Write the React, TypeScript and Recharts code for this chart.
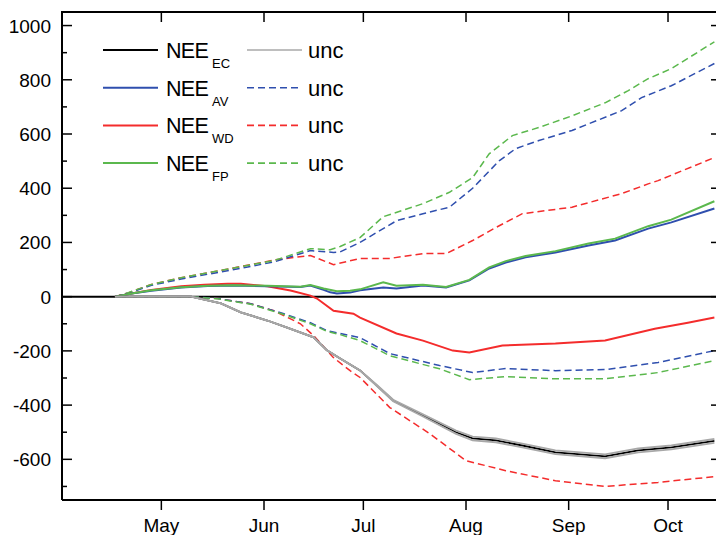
import { LineChart, Line, XAxis, YAxis, ReferenceLine, Legend } from 'recharts'

const FONT = '"Liberation Sans", Arial, sans-serif'

type Pt = [number, number] // [day of year, cumulative NEE]

// cumulative NEE per footprint method, solid curves
const neeEC: Pt[] = [
  [107, 0], [118, 0], [130, 0], [139, -25], [145, -58], [153, -88], [159, -114], [167, -150],
  [171, -198], [175, -228], [181, -272], [186, -327], [191, -383], [200, -438], [210, -500],
  [215, -523], [222, -530], [230, -549], [240, -574], [255, -589], [265, -567], [275, -556], [288, -532],
]
const neeAV: Pt[] = [
  [107, 0], [112, 12], [118, 22], [127, 34], [135, 39], [143, 41], [153, 38], [163, 36],
  [166, 41], [170, 25], [172, 16], [174, 12], [178, 15], [181, 24], [188, 34], [192, 30],
  [200, 41], [207, 34], [214, 60], [220, 104], [225, 126], [231, 145], [240, 163], [250, 189],
  [258, 207], [268, 251], [275, 274], [288, 325],
]
const neeWD: Pt[] = [
  [107, 0], [112, 12], [118, 25], [127, 38], [134, 44], [141, 48], [145, 48], [153, 38],
  [160, 23], [166, 4], [168, -7], [173, -52], [179, -63], [181, -77], [192, -136], [200, -162],
  [209, -199], [214, -206], [224, -180], [240, -173], [255, -162], [270, -118], [280, -96], [288, -77],
]
const neeFP: Pt[] = [
  [107, 0], [112, 12], [118, 24], [127, 35], [135, 40], [143, 42], [153, 40], [163, 37],
  [166, 43], [170, 30], [174, 20], [178, 22], [181, 27], [188, 53], [192, 40], [200, 44],
  [207, 36], [214, 62], [220, 108], [225, 131], [231, 150], [240, 168], [250, 196], [258, 214],
  [268, 260], [275, 284], [288, 352],
]

// uncertainty bounds
const ecUncHi: Pt[] = [
  [107, 0], [118, 0], [130, 0], [139, -25], [145, -58], [153, -88], [159, -114], [167, -150],
  [171, -198], [175, -228], [181, -272], [186, -325], [191, -380], [200, -434], [210, -494],
  [215, -516], [222, -523], [230, -542], [240, -567], [255, -582], [265, -560], [275, -549], [288, -525],
]
const ecUncLo: Pt[] = [
  [107, 0], [118, 0], [130, 0], [139, -25], [145, -58], [153, -88], [159, -114], [167, -150],
  [171, -198], [175, -228], [181, -272], [186, -329], [191, -386], [200, -442], [210, -506],
  [215, -530], [222, -537], [230, -556], [240, -581], [255, -596], [265, -574], [275, -563], [288, -539],
]
const avUncHi: Pt[] = [
  [107, 0], [111, 13], [118, 42], [127, 65], [142, 98], [155, 128], [166, 170], [173, 163],
  [175, 165], [181, 200], [188, 251], [192, 280], [200, 306], [208, 330], [215, 400], [223, 501],
  [228, 546], [235, 576], [245, 613], [260, 686], [266, 734], [275, 778], [288, 860],
]
const avUncLo: Pt[] = [
  [107, 0], [130, 0], [138, -7], [148, -26], [158, -63], [166, -96], [171, -125], [175, -136],
  [181, -151], [190, -210], [205, -254], [215, -280], [225, -265], [240, -273], [255, -269],
  [271, -243], [288, -199],
]
const wdUncHi: Pt[] = [
  [107, 0], [111, 14], [118, 45], [127, 70], [142, 104], [155, 135], [166, 152], [173, 118],
  [181, 141], [190, 141], [200, 159], [207, 159], [215, 207], [222, 255], [230, 306], [245, 330],
  [260, 380], [268, 416], [271, 428], [288, 513],
]
const wdUncLo: Pt[] = [
  [107, 0], [129, 0], [138, -7], [148, -26], [155, -52], [163, -100], [167, -144], [173, -225],
  [178, -273], [181, -298], [190, -409], [202, -505], [213, -605], [225, -642], [240, -679],
  [255, -700], [271, -685], [288, -664],
]
const fpUncHi: Pt[] = [
  [107, 0], [111, 15], [118, 45], [127, 70], [142, 104], [155, 133], [166, 177], [172, 173],
  [175, 185], [181, 218], [188, 295], [200, 343], [208, 385], [215, 439], [220, 527], [227, 594],
  [235, 624], [245, 667], [255, 715], [262, 760], [268, 804], [275, 841], [288, 940],
]
const fpUncLo: Pt[] = [
  [107, 0], [130, 0], [138, -8], [148, -28], [158, -66], [166, -100], [171, -128], [175, -140],
  [181, -162], [190, -218], [205, -266], [214, -306], [225, -295], [240, -303], [255, -303],
  [271, -280], [288, -236],
]

const monthTicks = [121, 152, 182, 213, 244, 274]
const monthLabels = ['May', 'Jun', 'Jul', 'Aug', 'Sep', 'Oct']
const yTicks = [-700, -600, -500, -400, -300, -200, -100, 0, 100, 200, 300, 400, 500, 600, 700, 800, 900, 1000]

const X_DOMAIN: [number, number] = [91, 290]
const Y_DOMAIN: [number, number] = [-750, 1050]

// chart box; the plot size follows from it and is reused to draw the top/right frame
const CHART_W = 730
const CHART_H = 535
const MARGIN = { top: 12, right: 9, bottom: 5, left: 0 }
const Y_AXIS_W = 62
const X_AXIS_H = 30
const PLOT_W = CHART_W - MARGIN.left - MARGIN.right - Y_AXIS_W
const PLOT_H = CHART_H - MARGIN.top - MARGIN.bottom - X_AXIS_H
const PX_PER_UNIT = PLOT_H / (Y_DOMAIN[1] - Y_DOMAIN[0])

const BLACK = '#000000'
const GRAY = '#a8a8a8'
const BLUE = '#2f4fae'
const RED = '#f42c2c'
const GREEN = '#5bb84d'

const rows = (pts: Pt[]) => pts.map(([d, v]) => ({ d, v }))

const dashed = [
  { id: 'wdHi', pts: wdUncHi, color: RED },
  { id: 'wdLo', pts: wdUncLo, color: RED },
  { id: 'avHi', pts: avUncHi, color: BLUE },
  { id: 'avLo', pts: avUncLo, color: BLUE },
  { id: 'fpHi', pts: fpUncHi, color: GREEN },
  { id: 'fpLo', pts: fpUncLo, color: GREEN },
]
const solid = [
  { id: 'wd', pts: neeWD, color: RED },
  { id: 'av', pts: neeAV, color: BLUE },
  { id: 'fp', pts: neeFP, color: GREEN },
]

const legendRows = [
  { sub: 'EC', color: BLACK, unc: GRAY, dash: undefined },
  { sub: 'AV', color: BLUE, unc: BLUE, dash: '7 4' },
  { sub: 'WD', color: RED, unc: RED, dash: '7 4' },
  { sub: 'FP', color: GREEN, unc: GREEN, dash: '7 4' },
]

// left ticks point inward; majors also get a mirrored tick on the right frame,
// and the top tick carries the top/right frame lines
const LeftTick = (props: any) => {
  const { x, y, payload } = props
  const v = payload.value
  const major = v % 200 === 0
  const ax = x + 11
  const rx = ax + PLOT_W
  const top = y - (Y_DOMAIN[1] - v) * PX_PER_UNIT
  const isTop = v === yTicks[yTicks.length - 1]
  return (
    <g>
      <line x1={ax} x2={ax + (major ? 10 : 5)} y1={y} y2={y} stroke={BLACK} strokeWidth={1.5} />
      <line x1={rx - (major ? 10 : 5)} x2={rx} y1={y} y2={y} stroke={BLACK} strokeWidth={1.5} />
      {isTop && (
        <>
          <line x1={ax - 1} x2={rx + 1} y1={top} y2={top} stroke={BLACK} strokeWidth={2} />
          <line x1={rx} x2={rx} y1={top} y2={top + PLOT_H} stroke={BLACK} strokeWidth={2} />
        </>
      )}
      {major && (
        <text x={x} y={y} dy={7} textAnchor="end" fontSize={19} fontFamily={FONT} fill={BLACK}>
          {v}
        </text>
      )}
    </g>
  )
}

// month ticks: outward on the bottom axis, inward on the top frame
const BottomTick = (props: any) => {
  const { x, y, payload } = props
  const i = monthTicks.indexOf(payload.value)
  return (
    <g>
      <line x1={x} x2={x} y1={y} y2={y + 10} stroke={BLACK} strokeWidth={1.5} />
      <line x1={x} x2={x} y1={y - PLOT_H} y2={y - PLOT_H + 10} stroke={BLACK} strokeWidth={1.5} />
      <text x={x} y={y + 32} textAnchor="middle" fontSize={19} fontFamily={FONT} fill={BLACK}>
        {monthLabels[i]}
      </text>
    </g>
  )
}

const LegendBox = () => (
  <svg width={360} height={190} style={{ display: 'block' }}>
    {legendRows.map((r, i) => {
      const ly = 50 + i * 37.7
      return (
        <g key={r.sub} fontFamily={FONT} fill={BLACK}>
          <line x1={103} x2={158} y1={ly} y2={ly} stroke={r.color} strokeWidth={2} />
          <text x={166} y={ly + 8} fontSize={21.5} letterSpacing={-0.7}>NEE</text>
          <text x={212} y={ly + 18} fontSize={13}>{r.sub}</text>
          <line x1={247} x2={302} y1={ly} y2={ly} stroke={r.unc} strokeWidth={1.6} strokeDasharray={r.dash} />
          <text x={308} y={ly + 8} fontSize={22}>unc</text>
        </g>
      )
    })}
  </svg>
)

export default function App() {
  return (
    <div style={{ position: 'absolute', left: 0, top: 0, width: 716, height: 535, overflow: 'hidden', background: '#fff' }}>
      <LineChart width={CHART_W} height={CHART_H} margin={MARGIN}>
        <XAxis
          dataKey="d"
          type="number"
          domain={X_DOMAIN}
          ticks={monthTicks}
          interval={0}
          height={X_AXIS_H}
          tickSize={0}
          tickMargin={0}
          tickLine={false}
          axisLine={{ stroke: BLACK, strokeWidth: 2 }}
          tick={BottomTick}
          allowDataOverflow
        />
        <YAxis
          type="number"
          domain={Y_DOMAIN}
          ticks={yTicks}
          interval={0}
          width={Y_AXIS_W}
          tickSize={0}
          tickMargin={11}
          tickLine={false}
          axisLine={{ stroke: BLACK, strokeWidth: 2 }}
          tick={LeftTick}
          allowDataOverflow
        />
        <ReferenceLine y={0} stroke={BLACK} strokeWidth={2} />
        {dashed.map((s) => (
          <Line
            key={s.id}
            data={rows(s.pts)}
            dataKey="v"
            type="linear"
            stroke={s.color}
            strokeWidth={1.5}
            strokeDasharray="7 4"
            dot={false}
            activeDot={false}
            isAnimationActive={false}
          />
        ))}
        {solid.map((s) => (
          <Line
            key={s.id}
            data={rows(s.pts)}
            dataKey="v"
            type="linear"
            stroke={s.color}
            strokeWidth={2}
            dot={false}
            activeDot={false}
            isAnimationActive={false}
          />
        ))}
        <Line data={rows(neeEC)} dataKey="v" type="linear" stroke={BLACK} strokeWidth={1.8} dot={false} activeDot={false} isAnimationActive={false} />
        <Line data={rows(ecUncHi)} dataKey="v" type="linear" stroke={GRAY} strokeWidth={1.8} dot={false} activeDot={false} isAnimationActive={false} />
        <Line data={rows(ecUncLo)} dataKey="v" type="linear" stroke={GRAY} strokeWidth={1.8} dot={false} activeDot={false} isAnimationActive={false} />
        <Legend
          layout="vertical"
          align="center"
          verticalAlign="middle"
          wrapperStyle={{ left: 0, top: 0, width: 360, height: 190 }}
          content={() => <LegendBox />}
        />
      </LineChart>
    </div>
  )
}
